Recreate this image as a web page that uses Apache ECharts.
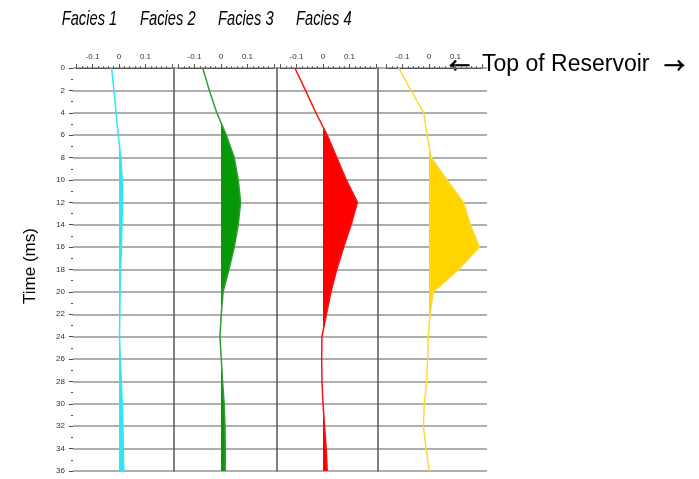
<!DOCTYPE html>
<html>
<head>
<meta charset="utf-8">
<title>Facies wiggle traces</title>
<script src="https://cdn.jsdelivr.net/npm/echarts@6/dist/echarts.min.js"></script>
<style>
  html, body { margin: 0; padding: 0; background: #ffffff; }
  #chart { width: 699px; height: 479px; }
</style>
</head>
<body>
<div id="chart"></div>
<script>
// Two-way time samples (ms)
const timesMs = [0, 2, 4, 6, 8, 10, 12, 14, 16, 18, 20, 22, 24, 26, 28, 30, 32, 34, 36];

// Synthetic trace amplitude per facies at each sample
const facies1 = [-0.028, -0.019, -0.011, -0.003, 0.007, 0.012, 0.013, 0.011, 0.009, 0.006, 0.004, 0.003, 0.002, 0.005, 0.009, 0.012, 0.015, 0.016, 0.018];
const facies2 = [-0.069, -0.044, -0.016, 0.020, 0.050, 0.065, 0.074, 0.065, 0.050, 0.030, 0.008, 0.001, -0.004, 0.001, 0.006, 0.012, 0.015, 0.016, 0.016];
const facies3 = [-0.106, -0.066, -0.027, 0.016, 0.052, 0.088, 0.130, 0.106, 0.078, 0.052, 0.030, 0.013, -0.004, -0.005, -0.004, 0.000, 0.006, 0.012, 0.016];
const facies4 = [-0.114, -0.068, -0.020, -0.007, 0.008, 0.068, 0.130, 0.156, 0.190, 0.112, 0.016, 0.004, -0.003, -0.005, -0.009, -0.018, -0.021, -0.011, 0.001];

const faciesNames = ['Facies 1', 'Facies 2', 'Facies 3', 'Facies 4'];
const ampTickLabels = ['-0.1', '0', '0.1'];
const markerText = 'Top of Reservoir';
const axisTitle = 'Time (ms)';

// ---- layout ----
const plotTop = 68, plotHeight = 403;
const pxPerUnit = 265;                 // pixels per amplitude unit
const ampMin = -0.16, ampMax = 0.2;    // ruler extent of each panel
const zeroX = [119, 221, 323, 429];    // x of zero amplitude in each panel
const separatorX = [73, 174, 276.5, 377.5];
const lineColors = ['#2ee6f6', '#2e9e2e', '#ff1010', '#ffd836'];
const fillColors = ['#2ee6f6', '#079807', '#ff0000', '#ffd400'];
const titleX = [61.7, 140, 218, 296];

const traces = [facies1, facies2, facies3, facies4];

const grids = [], xAxes = [], yAxes = [], series = [];

traces.forEach(function (vals, i) {
  const left = zeroX[i] + ampMin * pxPerUnit;
  grids.push({ left: left, top: plotTop, width: (ampMax - ampMin) * pxPerUnit, height: plotHeight, containLabel: false });
  xAxes.push({
    type: 'value', gridIndex: i, position: 'top', min: ampMin, max: ampMax,
    axisLine: { show: true, onZero: false, lineStyle: { color: '#555', width: 1 } },
    axisTick: { show: true, length: 4, lineStyle: { color: '#555', width: 1 } },
    minorTick: { show: true, splitNumber: 5, length: 2, lineStyle: { color: '#666', width: 1 } },
    splitLine: { show: false },
    axisLabel: {
      show: true, fontSize: 8, color: '#333', margin: 7, fontFamily: 'Liberation Sans',
      formatter: function (v) {
        const r = Math.round(v * 100) / 100;
        const idx = [-0.1, 0, 0.1].indexOf(r);
        return idx >= 0 ? ampTickLabels[idx] : '';
      }
    }
  });
  // panel divider drawn as the panel's own vertical axis line
  yAxes.push({
    type: 'value', gridIndex: i, inverse: true, min: 0, max: 36,
    offset: left - separatorX[i],
    axisLine: { show: i > 0, onZero: false, lineStyle: { color: '#555', width: 1.5 } },
    axisTick: { show: false }, axisLabel: { show: false }, splitLine: { show: false }
  });

  const pairs = timesMs.map(function (t, k) { return [vals[k], t]; });

  // positive lobes filled from the zero line
  series.push({
    type: 'custom', xAxisIndex: i, yAxisIndex: i, data: pairs, z: 2,
    encode: { x: 0, y: 1 },
    renderItem: function (params, api) {
      if (params.dataIndex !== 0) return null;
      const cs = params.coordSys;
      const pts = pairs.map(function (p) { return api.coord(p); });
      const z0 = Math.round(api.coord([0, 0])[0]);
      const poly = [[z0, pts[0][1]]].concat(pts, [[z0, pts[pts.length - 1][1]]]);
      return {
        type: 'polygon',
        shape: { points: poly },
        style: { fill: fillColors[i], stroke: null },
        clipPath: { type: 'rect', shape: { x: z0, y: cs.y, width: cs.x + cs.width - z0, height: cs.height } }
      };
    }
  });
  // trace curve
  series.push({
    type: 'line', xAxisIndex: i, yAxisIndex: i, data: pairs, z: 3,
    showSymbol: false, symbol: 'none', smooth: false,
    lineStyle: { color: lineColors[i], width: 1.5 }
  });
});

// shared time axis with horizontal grid lines across all panels
grids.push({ left: 73, top: plotTop, width: 414, height: plotHeight });
xAxes.push({ type: 'value', gridIndex: 4, show: false, min: 0, max: 1 });
yAxes.push({
  type: 'value', gridIndex: 4, inverse: true, min: 0, max: 36, interval: 2,
  axisLine: { show: false },
  axisTick: { show: true, length: 4, lineStyle: { color: '#444', width: 1 } },
  minorTick: { show: true, splitNumber: 2, length: 2, lineStyle: { color: '#444', width: 1 } },
  splitLine: { show: true, lineStyle: { color: '#959595', width: 1.5 } },
  axisLabel: { fontSize: 8, color: '#333', margin: 8, fontFamily: 'Liberation Sans' }
});

const graphics = faciesNames.map(function (name, i) {
  return {
    type: 'text', x: titleX[i], y: 19, scaleX: 0.7,
    style: { text: name, fontFamily: 'Liberation Sans', fontStyle: 'italic', fontSize: 21,
             fill: '#000', textAlign: 'left', textVerticalAlign: 'middle' }
  };
});
graphics.push({
  type: 'text', x: 30, y: 266, rotation: Math.PI / 2,
  style: { text: axisTitle, fontFamily: 'Liberation Sans', fontSize: 17, fill: '#000',
           textAlign: 'center', textVerticalAlign: 'middle' }
});
// reservoir-top marker: arrow, label, arrow
graphics.push({
  type: 'text', x: 449, y: 65,
  style: { text: '\u2190', fontFamily: 'Noto Sans CJK SC', fontSize: 21, fill: '#000',
           stroke: '#000', lineWidth: 0.7,
           textAlign: 'left', textVerticalAlign: 'middle' }
});
graphics.push({
  type: 'text', x: 482, y: 65,
  style: { text: markerText, fontFamily: 'Liberation Sans', fontSize: 23, fill: '#000',
           textAlign: 'left', textVerticalAlign: 'middle' }
});
graphics.push({
  type: 'text', x: 664, y: 65,
  style: { text: '\u2192', fontFamily: 'Noto Sans CJK SC', fontSize: 21, fill: '#000',
           stroke: '#000', lineWidth: 0.7,
           textAlign: 'left', textVerticalAlign: 'middle' }
});

const chart = echarts.init(document.getElementById('chart'), null, { renderer: 'canvas' });
chart.setOption({
  backgroundColor: '#ffffff',
  animation: false,
  grid: grids,
  xAxis: xAxes,
  yAxis: yAxes,
  series: series,
  graphic: graphics
});
</script>
</body>
</html>
